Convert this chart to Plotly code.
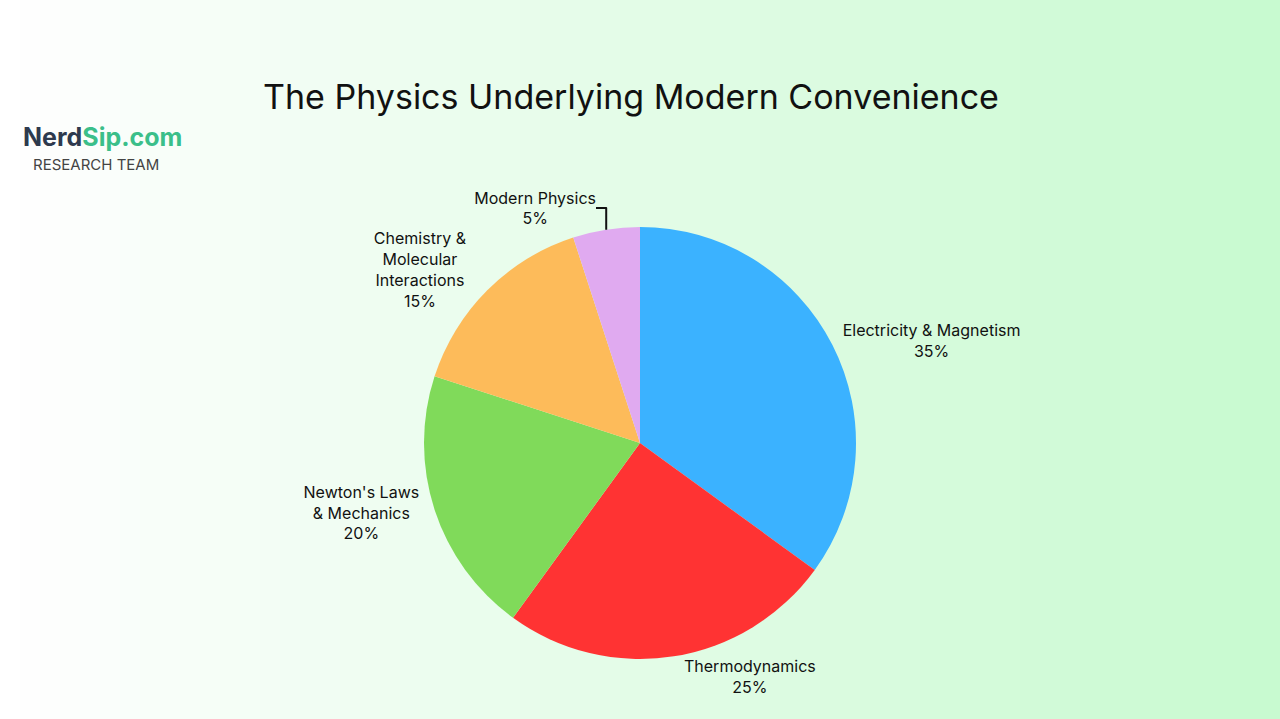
import plotly.graph_objects as go

labels = ["Electricity & Magnetism", "Thermodynamics", "Newton's Laws<br>& Mechanics",
          "Chemistry &<br>Molecular<br>Interactions", "Modern Physics"]
values = [35, 25, 20, 15, 5]
colors = ["#3BB2FF", "#FF3333", "#80DA5A", "#FDBB5A", "#E0AAF0"]

fig = go.Figure(go.Pie(
    labels=labels, values=values, sort=False, direction="clockwise", rotation=0,
    marker=dict(colors=colors, line=dict(color="white", width=0)),
    textinfo="label+percent", textposition="outside",
    texttemplate="%{label}<br>%{percent:.0%}",
    textfont=dict(size=16, color="#111"), showlegend=False,
    domain=dict(x=[(640 - 216) / 1280, (640 + 216) / 1280],
                y=[1 - (443 + 216) / 719, 1 - (443 - 216) / 719])))

shapes = []
n = 64
for i in range(n):
    t = i / (n - 1)
    r = int(255 + (200 - 255) * t)
    g = int(255 + (250 - 255) * t)
    b = int(255 + (208 - 255) * t)
    shapes.append(dict(type="rect", xref="paper", yref="paper", x0=i / n, x1=(i + 1) / n + 0.002,
                       y0=0, y1=1, fillcolor=f"rgb({r},{g},{b})", line=dict(width=0), layer="below"))

fig.update_layout(
    width=1280, height=719, margin=dict(l=0, r=0, t=0, b=0),
    paper_bgcolor="white", plot_bgcolor="white", shapes=shapes,
    font=dict(family="Inter, Open Sans, sans-serif"),
    title=dict(text="The Physics Underlying Modern Convenience", x=631 / 1280, y=1 - 97 / 719,
               xanchor="center", yanchor="middle", font=dict(size=34, color="#111")),
    annotations=[
        dict(text="<b>Nerd</b><b><span style='color:#3BBF8A'>Sip.com</span></b>", x=102 / 1280, y=1 - 137 / 719,
             xref="paper", yref="paper", xanchor="center", yanchor="middle", showarrow=False,
             font=dict(size=25, color="#2E3A4E")),
        dict(text="RESEARCH TEAM", x=96 / 1280, y=1 - 165 / 719, xref="paper", yref="paper",
             xanchor="center", yanchor="middle", showarrow=False,
             font=dict(size=15, color="#444")),
    ])
fig.write_html("out.html", config={"displayModeBar": False},
               post_script="document.body.style.margin='0';")
